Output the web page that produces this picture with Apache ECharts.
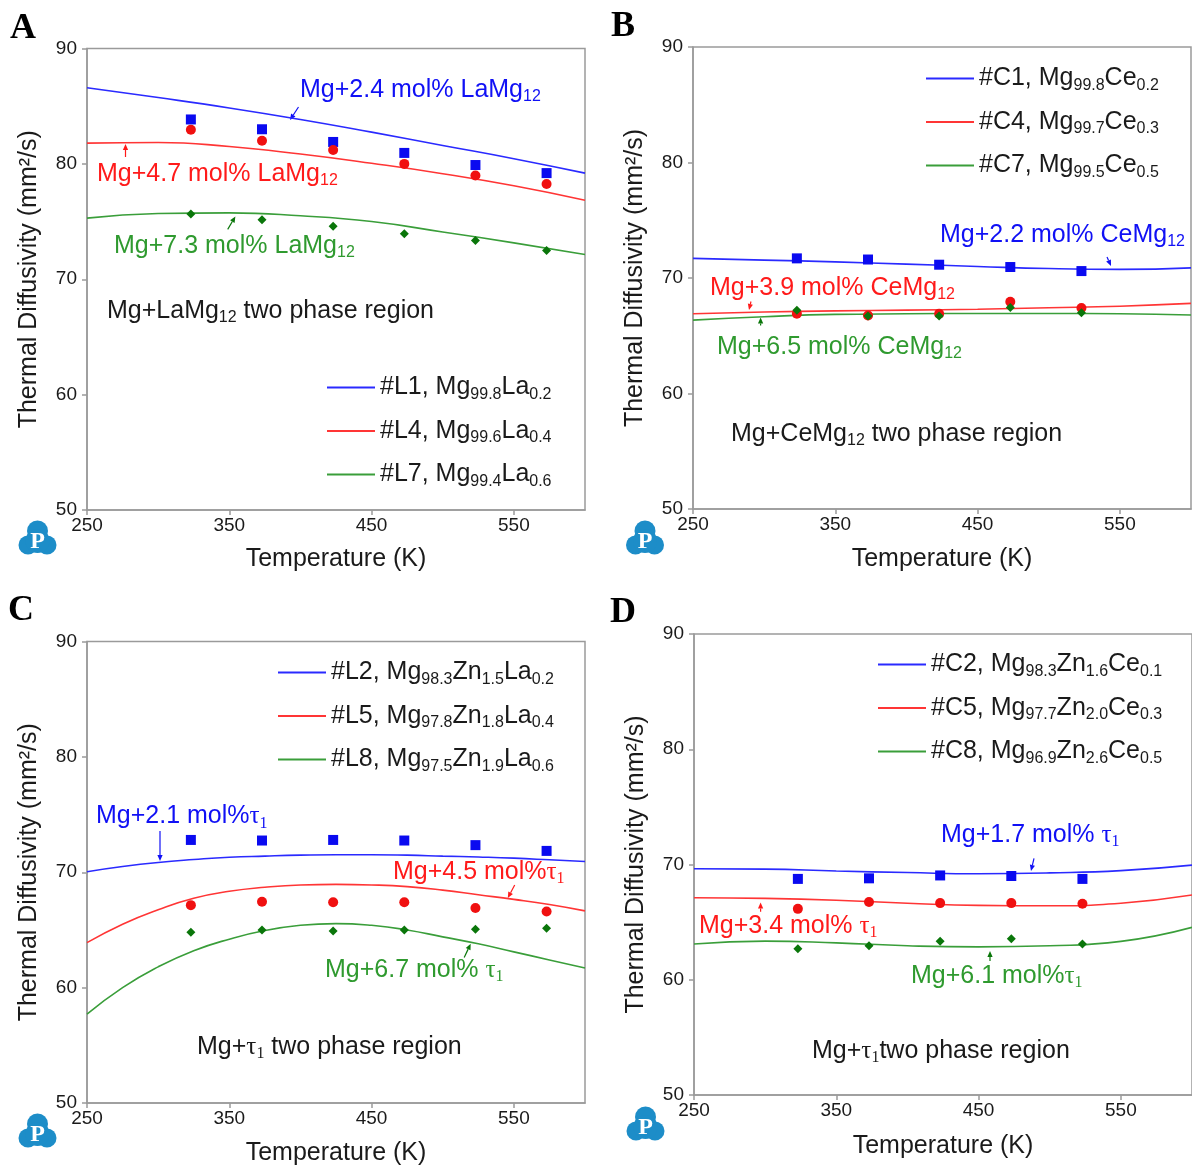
<!DOCTYPE html>
<html lang="en">
<head>
<meta charset="UTF-8">
<title>Thermal diffusivity of Mg alloys</title>
<script src="https://cdn.jsdelivr.net/npm/echarts@6/dist/echarts.min.js"></script>
<style>html,body{margin:0;background:#fff}</style>
</head>
<body>
<div id="main" style="width:1192px;height:1166px;"></div>
<script>
  // temperatures (K)
  const sampleT = [323, 373, 423, 473, 523, 573];
  const sampleT5 = [323, 373, 423, 473, 523];
  const calcT = [250, 300, 350, 400, 450, 500, 550, 600];
  const calcTFine = [250, 275, 300, 325, 350, 375, 400, 425, 450, 475, 500, 525, 550, 575, 600];
  const xTicks = [250, 350, 450, 550];

  // A: Mg-La
  const aNames = ['#L1, Mg_{99.8}La_{0.2}', '#L4, Mg_{99.6}La_{0.4}', '#L7, Mg_{99.4}La_{0.6}'];
  const aCalcL1 = [86.6, 85.75, 84.85, 83.85, 82.75, 81.6, 80.45, 79.2];
  const aCalcL4 = [81.8, 81.85, 81.5, 80.85, 80.05, 79.15, 78.1, 76.85];
  const aCalcL7 = [75.3, 75.7, 75.75, 75.5, 75.0, 74.1, 73.15, 72.15];
  const aExpL1 = [83.85, 83.0, 81.9, 80.95, 79.9, 79.2];
  const aExpL4 = [82.95, 82.0, 81.2, 80.0, 79.0, 78.25];
  const aExpL7 = [75.65, 75.15, 74.6, 73.95, 73.35, 72.5];

  // B: Mg-Ce
  const bNames = ['#C1, Mg_{99.8}Ce_{0.2}', '#C4, Mg_{99.7}Ce_{0.3}', '#C7, Mg_{99.5}Ce_{0.5}'];
  const bCalcC1 = [71.7, 71.55, 71.4, 71.2, 71.0, 70.82, 70.75, 70.88];
  const bCalcC4 = [66.9, 67.05, 67.15, 67.22, 67.3, 67.42, 67.55, 67.8];
  const bCalcC7 = [66.35, 66.65, 66.85, 66.9, 66.93, 66.93, 66.9, 66.8];
  const bExpC1 = [71.7, 71.6, 71.15, 70.95, 70.6];
  const bExpC4 = [66.9, 66.75, 66.9, 67.95, 67.4];
  const bExpC7 = [67.2, 66.7, 66.7, 67.45, 67.0];

  // C: Mg-Zn-La
  const cNames = ['#L2, Mg_{98.3}Zn_{1.5}La_{0.2}', '#L5, Mg_{97.8}Zn_{1.8}La_{0.4}', '#L8, Mg_{97.5}Zn_{1.9}La_{0.6}'];
  const cCalcL2 = [70.05, 70.5, 70.85, 71.1, 71.3, 71.4, 71.48, 71.52, 71.52, 71.48, 71.4, 71.32, 71.22, 71.08, 70.93];
  const cCalcL5 = [63.9, 65.5, 66.75, 67.75, 68.35, 68.7, 68.9, 68.95, 68.9, 68.75, 68.45, 68.05, 67.65, 67.2, 66.65];
  const cCalcL8 = [57.7, 60.0, 61.8, 63.2, 64.2, 64.95, 65.4, 65.55, 65.4, 65.0, 64.4, 63.8, 63.1, 62.4, 61.7];
  const cExpL2 = [72.8, 72.75, 72.8, 72.75, 72.35, 71.85];
  const cExpL5 = [67.15, 67.45, 67.4, 67.4, 66.9, 66.6];
  const cExpL8 = [64.8, 65.0, 64.9, 65.0, 65.05, 65.15];

  // D: Mg-Zn-Ce
  const dNames = ['#C2, Mg_{98.3}Zn_{1.6}Ce_{0.1}', '#C5, Mg_{97.7}Zn_{2.0}Ce_{0.3}', '#C8, Mg_{96.9}Zn_{2.6}Ce_{0.5}'];
  const dCalcC2 = [69.63, 69.6, 69.43, 69.3, 69.2, 69.27, 69.47, 69.95];
  const dCalcC5 = [67.12, 67.06, 66.9, 66.64, 66.45, 66.42, 66.64, 67.35];
  const dCalcC8 = [63.1, 63.35, 63.2, 62.95, 62.85, 62.95, 63.33, 64.55];
  const dExpC2 = [68.75, 68.8, 69.05, 69.0, 68.75];
  const dExpC5 = [66.15, 66.75, 66.65, 66.65, 66.6];
  const dExpC8 = [62.7, 62.95, 63.35, 63.55, 63.1];

  const SANS = 'Liberation Sans';
  const SERIF = 'Liberation Serif';
  const blue = '#1010f5', red = '#ff1a1a', green = '#2f9a2f', greenDark = '#0a760a', ink = '#1a1a1a';
  const lineColors = ['#2a2aff', '#ff3535', '#3a9e3a'];
  const markColors = ['#0a0af0', '#f01010', greenDark];
  const symbols = ['rect', 'circle', 'diamond'];
  const symbolSizes = [10, 10, 9];
  const axisGrey = '#9a9a9a';

  const panels = [
    { names: aNames, curveT: calcT, curves: [aCalcL1, aCalcL4, aCalcL7], expT: sampleT, exp: [aExpL1, aExpL4, aExpL7],
      grid: { left: 87, top: 48.5, width: 498, height: 461.5 }, legendPos: { left: 327, top: 375 }, nameGapX: 49 },
    { names: bNames, curveT: calcT, curves: [bCalcC1, bCalcC4, bCalcC7], expT: sampleT5, exp: [bExpC1, bExpC4, bExpC7],
      grid: { left: 693, top: 47, width: 498, height: 462 }, legendPos: { left: 926, top: 66 }, nameGapX: 50 },
    { names: cNames, curveT: calcTFine, curves: [cCalcL2, cCalcL5, cCalcL8], expT: sampleT, exp: [cExpL2, cExpL5, cExpL8],
      grid: { left: 87, top: 641.5, width: 498, height: 461.5 }, legendPos: { left: 278, top: 660 }, nameGapX: 50 },
    { names: dNames, curveT: calcT, curves: [dCalcC2, dCalcC5, dCalcC8], expT: sampleT5, exp: [dExpC2, dExpC5, dExpC8],
      grid: { left: 694, top: 634, width: 498, height: 461 }, legendPos: { left: 878, top: 652 }, nameGapX: 51 }
  ];

  // 'Mg_{99.8}' -> rich tokens, 'τ_1' -> serif tau with subscript
  function richify(str) {
    return str.split(/(τ_1|_\{[^}]*\})/).filter(s => s).map(s => {
      if (s === 'τ_1') return '{t|τ}{u|1}';
      if (s.startsWith('_{')) return '{s|' + s.slice(2, -1) + '}';
      return '{n|' + s + '}';
    }).join('');
  }
  function richStyles(colorKey, color) {
    const r = {
      n: { fontSize: 25, fontFamily: SANS, lineHeight: 30 },
      s: { fontSize: 16, fontFamily: SANS, lineHeight: 12, verticalAlign: 'bottom' },
      t: { fontSize: 25, fontFamily: SERIF, lineHeight: 30 },
      u: { fontSize: 16, fontFamily: SERIF, lineHeight: 12, verticalAlign: 'bottom' }
    };
    Object.values(r).forEach(o => { o[colorKey] = color; });
    return r;
  }

  const grid = [], xAxis = [], yAxis = [], legend = [], series = [];
  panels.forEach((p, i) => {
    grid.push(Object.assign({ show: true, borderColor: axisGrey, borderWidth: 1.5, backgroundColor: 'transparent', outerBoundsMode: 'none' }, p.grid));
    xAxis.push({
      gridIndex: i, type: 'value', min: 250, max: 600,
      name: 'Temperature (K)', nameLocation: 'middle', nameGap: p.nameGapX,
      nameTextStyle: { fontSize: 25, fontFamily: SANS, color: ink, verticalAlign: 'middle' },
      axisLine: { show: true, lineStyle: { color: axisGrey, width: 1.5 } },
      axisTick: { show: true, inside: false, length: 5, customValues: xTicks, lineStyle: { color: axisGrey, width: 1.5 } },
      axisLabel: { customValues: xTicks, fontSize: 19, fontFamily: SANS, color: ink, margin: 6 },
      splitLine: { show: false }
    });
    yAxis.push({
      gridIndex: i, type: 'value', min: 50, max: 90, interval: 10,
      name: 'Thermal Diffusivity (mm²/s)', nameLocation: 'middle', nameRotate: 90, nameGap: 57.5,
      nameTextStyle: { fontSize: 25, fontFamily: SANS, color: ink, align: 'center', verticalAlign: 'middle' },
      axisLine: { show: true, lineStyle: { color: axisGrey, width: 1.5 } },
      axisTick: { show: true, inside: false, length: 5, lineStyle: { color: axisGrey, width: 1.5 } },
      axisLabel: { fontSize: 19, fontFamily: SANS, color: ink, margin: 10 },
      splitLine: { show: false }
    });
    legend.push({
      data: p.names.map((n, k) => ({ name: n, icon: 'rect', itemStyle: { color: lineColors[k] } })),
      orient: 'vertical', left: p.legendPos.left, top: p.legendPos.top, padding: 0,
      itemWidth: 48, itemHeight: 2, itemGap: 16, selectedMode: false,
      formatter: name => richify(name),
      textStyle: { rich: richStyles('color', ink) }
    });
    p.names.forEach((name, k) => {
      series.push({
        name: name, type: 'line', xAxisIndex: i, yAxisIndex: i,
        data: p.curveT.map((t, j) => [t, p.curves[k][j]]),
        smooth: true, symbol: 'none', showSymbol: false,
        lineStyle: { color: lineColors[k], width: 1.6 }, itemStyle: { color: lineColors[k] }, z: 2
      });
      series.push({
        name: name + ' exp', type: 'scatter', xAxisIndex: i, yAxisIndex: i,
        data: p.expT.map((t, j) => [t, p.exp[k][j]]),
        symbol: symbols[k], symbolSize: symbolSizes[k],
        itemStyle: { color: markColors[k], opacity: 1 }, z: 3
      });
    });
  });

  // annotations (pixel positions)
  const notes = [
    ['Mg+2.4 mol% LaMg_{12}', 300, 90, blue], ['Mg+4.7 mol% LaMg_{12}', 97, 174, red],
    ['Mg+7.3 mol% LaMg_{12}', 114, 246, green], ['Mg+LaMg_{12} two phase region', 107, 311, ink],
    ['Mg+2.2 mol% CeMg_{12}', 940, 235, blue], ['Mg+3.9 mol% CeMg_{12}', 710, 288, red],
    ['Mg+6.5 mol% CeMg_{12}', 717, 347, green], ['Mg+CeMg_{12} two phase region', 731, 434, ink],
    ['Mg+2.1 mol%τ_1', 96, 816.5, blue], ['Mg+4.5 mol%τ_1', 393, 872, red],
    ['Mg+6.7 mol% τ_1', 325, 970, green], ['Mg+τ_1 two phase region', 197, 1047, ink],
    ['Mg+1.7 mol% τ_1', 941, 835, blue], ['Mg+3.4 mol% τ_1', 699, 926, red],
    ['Mg+6.1 mol%τ_1', 911, 976, green], ['Mg+τ_1two phase region', 812, 1051, ink]
  ];
  const arrows = [
    [[298.5, 107, 290, 120], blue], [[125.5, 157, 125.5, 144], red], [[227.7, 229.4, 235.4, 216.4], greenDark],
    [[1107, 257, 1111, 266], blue], [[751, 301.5, 749, 310], red], [[760.6, 325.6, 760.6, 317.4], greenDark],
    [[160, 831, 160, 861], blue], [[514.7, 885, 507.8, 898], red], [[464.2, 957.4, 470.7, 943.7], greenDark],
    [[1034, 858.4, 1031, 871], blue], [[760.6, 911.8, 760.6, 902.5], red], [[990, 961, 990, 951], greenDark]
  ];
  const letters = [['A', 10, 29], ['B', 611, 27], ['C', 8, 611], ['D', 610, 613]];
  const logos = [[37.5, 539], [645, 539], [37.5, 1132], [645.5, 1125]];

  function arrow([x1, y1, x2, y2], color) {
    const a = Math.atan2(y2 - y1, x2 - x1), L = 6, W = 2.6;
    const bx = x2 - L * Math.cos(a), by = y2 - L * Math.sin(a);
    return {
      type: 'group', silent: true, children: [
        { type: 'line', shape: { x1: x1, y1: y1, x2: bx, y2: by }, style: { stroke: color, lineWidth: 1.2 } },
        { type: 'polygon', shape: { points: [[x2, y2], [bx - W * Math.sin(a), by + W * Math.cos(a)], [bx + W * Math.sin(a), by - W * Math.cos(a)]] }, style: { fill: color } }
      ]
    };
  }
  function logo([cx, cy]) {
    const c = '#1d8dc8';
    return {
      type: 'group', x: cx, y: cy, silent: true, children: [
        { type: 'circle', shape: { cx: 0, cy: -8, r: 10.5 }, style: { fill: c } },
        { type: 'circle', shape: { cx: -9.5, cy: 6, r: 9.5 }, style: { fill: c } },
        { type: 'circle', shape: { cx: 9.5, cy: 6, r: 9.5 }, style: { fill: c } },
        { type: 'circle', shape: { cx: 0, cy: 2, r: 12 }, style: { fill: c } },
        { type: 'text', x: 0, y: 3, style: { text: 'P', fill: '#fff', fontSize: 24, fontWeight: 'bold', fontFamily: SERIF, align: 'center', verticalAlign: 'middle' } }
      ]
    };
  }

  const graphic = [];
  notes.forEach(([text, x, y, color]) => {
    graphic.push({ type: 'text', x: x, y: y, silent: true, style: { text: richify(text), rich: richStyles('fill', color), fill: color, align: 'left', verticalAlign: 'middle' } });
  });
  arrows.forEach(([pts, color]) => graphic.push(arrow(pts, color)));
  letters.forEach(([t, x, y]) => {
    graphic.push({ type: 'text', x: x, y: y, silent: true, style: { text: t, fill: '#000', fontSize: 36, fontWeight: 'bold', fontFamily: SERIF, align: 'left', verticalAlign: 'middle' } });
  });
  logos.forEach(pos => graphic.push(logo(pos)));

  const myChart = echarts.init(document.getElementById('main'));
  myChart.setOption({
    animation: false,
    backgroundColor: '#fff',
    grid: grid,
    xAxis: xAxis,
    yAxis: yAxis,
    legend: legend,
    series: series,
    graphic: graphic
  });
</script>
</body>
</html>
